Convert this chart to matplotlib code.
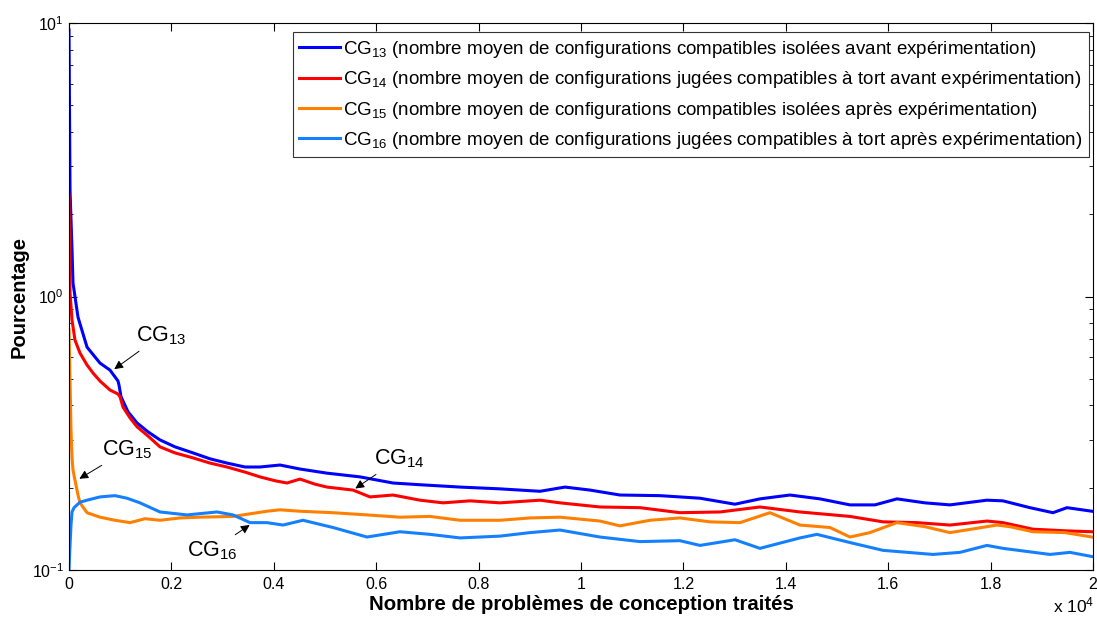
import matplotlib
matplotlib.use('Agg')
import matplotlib.pyplot as plt
from matplotlib.ticker import LogLocator, NullFormatter, FixedLocator

plt.rcParams['font.family'] = ['Liberation Sans', 'DejaVu Sans']
plt.rcParams['mathtext.fontset'] = 'custom'
plt.rcParams['mathtext.rm'] = 'Liberation Sans'
plt.rcParams['mathtext.it'] = 'Liberation Sans'
plt.rcParams['mathtext.default'] = 'regular'

###############################################################################
### Data
###############################################################################
x_cg13 = [0, 20, 59, 78, 176, 352, 605, 801, 957, 977, 1016, 1152, 1328, 1543, 1777, 2070,
          2422, 2754, 3086, 3437, 3730, 4121, 4511, 5039, 5684, 6328, 6855, 7637, 8418,
          9199, 9687, 10175, 10761, 11542, 12323, 13007, 13495, 14081, 14667, 15253,
          15741, 16171, 16718, 17206, 17929, 18241, 18768, 19218, 19492, 19980]
y_cg13 = [9.43, 2.45, 1.48, 1.12, 0.84, 0.653, 0.571, 0.538, 0.491, 0.474, 0.43, 0.379, 0.345,
          0.320, 0.299, 0.282, 0.268, 0.255, 0.246, 0.238, 0.238, 0.242, 0.234, 0.226, 0.219,
          0.208, 0.205, 0.201, 0.198, 0.194, 0.201, 0.196, 0.188, 0.187, 0.183, 0.174, 0.182,
          0.188, 0.182, 0.173, 0.173, 0.182, 0.176, 0.173, 0.180, 0.179, 0.169, 0.162, 0.169,
          0.164]

x_cg14 = [0, 20, 59, 117, 215, 352, 469, 605, 801, 957, 996, 1055, 1191, 1328, 1543, 1777,
          2070, 2422, 2754, 3086, 3437, 3730, 4023, 4257, 4511, 4804, 5039, 5547, 5879, 6328,
          6855, 7305, 7832, 8418, 9199, 9589, 10370, 11151, 11932, 12714, 13495, 14276,
          15253, 15898, 16562, 17206, 17929, 18241, 18827, 19492, 19980]
y_cg14 = [2.35, 1.03, 0.82, 0.693, 0.621, 0.562, 0.525, 0.491, 0.455, 0.440, 0.43, 0.394,
          0.360, 0.334, 0.309, 0.282, 0.268, 0.257, 0.246, 0.238, 0.228, 0.219, 0.212, 0.208,
          0.215, 0.206, 0.201, 0.196, 0.185, 0.188, 0.180, 0.176, 0.179, 0.176, 0.180, 0.176,
          0.170, 0.169, 0.162, 0.163, 0.170, 0.163, 0.157, 0.150, 0.149, 0.146, 0.151, 0.149,
          0.141, 0.139, 0.138]

x_cg15 = [0, 20, 39, 59, 78, 117, 176, 215, 352, 605, 898, 1191, 1484, 1777, 2168, 2558,
          3203, 3867, 4121, 4511, 5156, 5820, 6464, 7050, 7637, 8418, 9004, 9589, 10370,
          10761, 11347, 11932, 12518, 13105, 13690, 14276, 14862, 15253, 15643, 16171,
          16718, 17206, 18124, 18378, 18827, 19453, 19980]
y_cg15 = [0.755, 0.496, 0.325, 0.259, 0.232, 0.213, 0.188, 0.176, 0.162, 0.156, 0.152, 0.149,
          0.154, 0.152, 0.155, 0.156, 0.157, 0.164, 0.166, 0.164, 0.162, 0.159, 0.156, 0.157,
          0.152, 0.152, 0.155, 0.156, 0.151, 0.145, 0.152, 0.155, 0.150, 0.149, 0.162, 0.146,
          0.143, 0.132, 0.137, 0.149, 0.144, 0.137, 0.146, 0.144, 0.138, 0.137, 0.132]

x_cg16 = [0, 20, 39, 59, 98, 156, 215, 352, 605, 898, 1133, 1387, 1777, 2305, 2890, 3203,
          3535, 3867, 4179, 4570, 5156, 5820, 6464, 7050, 7637, 8418, 9004, 9589, 10370,
          11151, 11932, 12323, 13007, 13495, 14276, 14608, 15253, 15898, 16874, 17401,
          17929, 18241, 19159, 19550, 19980]
y_cg16 = [0.100, 0.123, 0.146, 0.163, 0.169, 0.173, 0.177, 0.180, 0.185, 0.187, 0.183, 0.176,
          0.163, 0.159, 0.163, 0.159, 0.149, 0.149, 0.146, 0.152, 0.143, 0.132, 0.138, 0.135,
          0.131, 0.133, 0.137, 0.140, 0.132, 0.127, 0.128, 0.123, 0.129, 0.120, 0.131, 0.135,
          0.126, 0.118, 0.114, 0.116, 0.123, 0.120, 0.114, 0.116, 0.112]

labels = ['CG$_{13}$ (nombre moyen de configurations compatibles isolées avant expérimentation)',
          'CG$_{14}$ (nombre moyen de configurations jugées compatibles à tort avant expérimentation)',
          'CG$_{15}$ (nombre moyen de configurations compatibles isolées après expérimentation)',
          'CG$_{16}$ (nombre moyen de configurations jugées compatibles à tort après expérimentation)']
colors = ['#0000FF', '#FF0000', '#FF8000', '#1580FF']

xticks = [0, 2000, 4000, 6000, 8000, 10000, 12000, 14000, 16000, 18000, 20000]
xticklabels = ['0', '0.2', '0.4', '0.6', '0.8', '1', '1.2', '1.4', '1.6', '1.8', '2']

###############################################################################
### Plot
###############################################################################
fig = plt.figure(figsize=(10.97, 6.18), dpi=100)
ax = fig.add_axes([69/1097, 48/618, 1024/1097, 547/618])

for xs, ys, c, lab in zip([x_cg13, x_cg14, x_cg15, x_cg16],
                          [y_cg13, y_cg14, y_cg15, y_cg16], colors, labels):
    ax.plot(xs, ys, color=c, lw=2.2, label=lab)

ax.set_yscale('log')
ax.set_xlim(0, 20000)
ax.set_ylim(0.1, 10)
ax.xaxis.set_major_locator(FixedLocator(xticks))
ax.set_xticklabels(xticklabels)
ax.yaxis.set_major_locator(LogLocator(base=10, numticks=5))
ax.yaxis.set_minor_locator(LogLocator(base=10, subs=range(2, 10), numticks=20))
ax.yaxis.set_minor_formatter(NullFormatter())
ax.tick_params(which='both', direction='in', top=True, right=True, labelsize=11.5)
ax.tick_params(which='major', length=6)
ax.tick_params(which='minor', length=3)
ax.tick_params(axis='x', pad=5)

ax.set_xlabel('Nombre de problèmes de conception traités', fontsize=14.7, fontweight='bold', labelpad=2)
ax.set_ylabel('Pourcentage', fontsize=14.5, fontweight='bold', labelpad=2)
fig.text(1094/1097, 1 - 605/618, r'x 10$^{4}$', fontsize=12.5, ha='right', va='center')

leg = ax.legend(loc='upper right', fontsize=13.5, handlelength=2.2, handletextpad=0.15,
                borderpad=0.35, labelspacing=0.5, fancybox=False, frameon=True,
                bbox_to_anchor=(1.0, 0.99), borderaxespad=0.2)
leg.get_frame().set_edgecolor('black')
leg.get_frame().set_linewidth(0.8)

arrow = dict(arrowstyle='-|>', color='black', lw=0.7, mutation_scale=13)
ax.annotate('CG$_{13}$', xy=(840, 0.535), xytext=(1300, 0.72), fontsize=15.5,
            arrowprops=arrow, ha='left', va='center')
ax.annotate('CG$_{14}$', xy=(5547, 0.196), xytext=(5950, 0.255), fontsize=15.5,
            arrowprops=arrow, ha='left', va='center')
ax.annotate('CG$_{15}$', xy=(156, 0.213), xytext=(650, 0.275), fontsize=15.5,
            arrowprops=arrow, ha='left', va='center')
ax.annotate('CG$_{16}$', xy=(3574, 0.148), xytext=(2300, 0.118), fontsize=15.5,
            arrowprops=arrow, ha='left', va='center')

fig.savefig('out.png', dpi=100)
